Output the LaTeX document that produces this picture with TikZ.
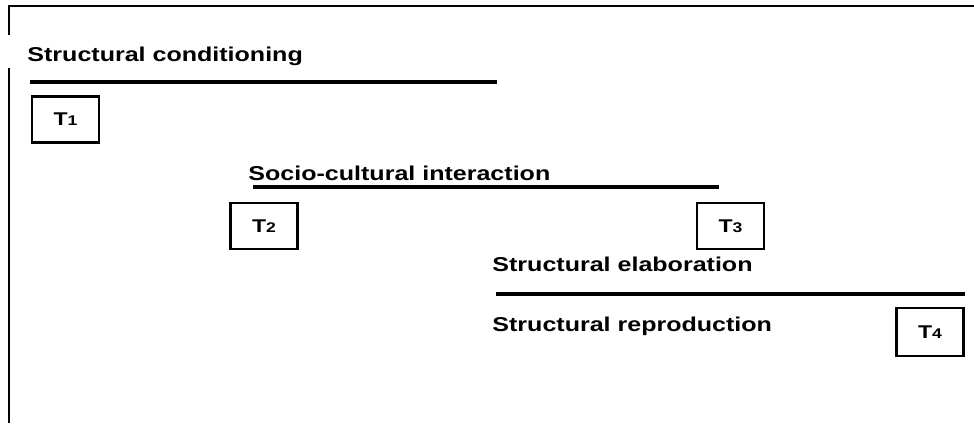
\documentclass[tikz,border=0pt]{standalone}
\usepackage{fontspec}
\setmainfont{Liberation Sans}
\usetikzlibrary{positioning}
\tikzset
{
    phase/.style   = {anchor=base west, inner sep=0pt, xscale=1.25, font=\bfseries\fontsize{11.4}{13}\selectfont},
    timebox/.style = {draw=black, line width=1.4pt, minimum width=1.07cm, minimum height=0.92cm, inner sep=0pt, xscale=1.25, font=\bfseries\fontsize{10.5}{12}\selectfont},
    bar/.style     = {line width=2pt}
}
\newcommand{\tlabel}[1]{T{\fontsize{8}{9}\selectfont #1}}

\begin{document}
\begin{tikzpicture}[x=0.02cm, y=-0.02cm]
\useasboundingbox (0,0) rectangle (974,423);
% frame
\draw [line width=1.4pt] (9,423) -- (9,68);
\draw [line width=1.4pt] (9,35) -- (9,6) -- (974,6);
% phases
\node [phase] at (27,61) (cond) {Structural conditioning};
\draw [bar] (30,82) -- (497,82);
\node [timebox] at (65.5,119.5) (t1) {\tlabel{1}};
\node [phase] at (248,180) (inter) {Socio-cultural interaction};
\draw [bar] (253,187) -- (719,187);
\node [timebox] at (264,226) (t2) {\tlabel{2}};
\node [timebox] at (730.5,226) (t3) {\tlabel{3}};
\node [phase] at (492,271) (elab) {Structural elaboration};
\draw [bar] (496,294) -- (965,294);
\node [phase] at (492,331) (repro) {Structural reproduction};
\node [timebox, minimum height=0.96cm] at (930,332) (t4) {\tlabel{4}};
\end{tikzpicture}
\end{document}
